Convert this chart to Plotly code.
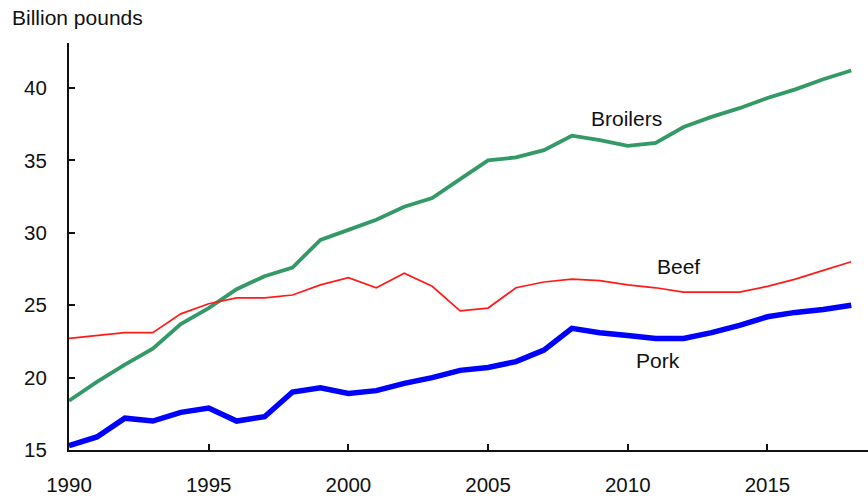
import plotly.graph_objects as go

years = list(range(1990, 2019))
broilers = [18.4, 19.7, 20.9, 22.0, 23.7, 24.8, 26.1, 27.0, 27.6, 29.5,
            30.2, 30.9, 31.8, 32.4, 33.7, 35.0, 35.2, 35.7, 36.7, 36.4,
            36.0, 36.2, 37.3, 38.0, 38.6, 39.3, 39.9, 40.6, 41.2]
beef = [22.7, 22.9, 23.1, 23.1, 24.4, 25.1, 25.5, 25.5, 25.7, 26.4,
        26.9, 26.2, 27.2, 26.3, 24.6, 24.8, 26.2, 26.6, 26.8, 26.7,
        26.4, 26.2, 25.9, 25.9, 25.9, 26.3, 26.8, 27.4, 28.0]
pork = [15.3, 15.9, 17.2, 17.0, 17.6, 17.9, 17.0, 17.3, 19.0, 19.3,
        18.9, 19.1, 19.6, 20.0, 20.5, 20.7, 21.1, 21.9, 23.4, 23.1,
        22.9, 22.7, 22.7, 23.1, 23.6, 24.2, 24.5, 24.7, 25.0]
x_ticks = [1990, 1995, 2000, 2005, 2010, 2015]
y_ticks = [15, 20, 25, 30, 35, 40]

FONT = "Liberation Sans, Arial, sans-serif"
TXT = "#111111"

fig = go.Figure()
fig.add_trace(go.Scatter(x=years, y=broilers, mode="lines", name="Broilers",
                         line=dict(color="#339966", width=3.8)))
fig.add_trace(go.Scatter(x=years, y=beef, mode="lines", name="Beef",
                         line=dict(color="#ff1a1a", width=1.7)))
fig.add_trace(go.Scatter(x=years, y=pork, mode="lines", name="Pork",
                         line=dict(color="#0000ff", width=5.5)))

fig.add_annotation(x=2009.94, y=37.86, xref="x", yref="y", text="Broilers",
                   showarrow=False, font=dict(size=21, color=TXT))
fig.add_annotation(x=2011.8, y=27.64, xref="x", yref="y", text="Beef",
                   showarrow=False, font=dict(size=21, color=TXT))
fig.add_annotation(x=2011.08, y=21.15, xref="x", yref="y", text="Pork",
                   showarrow=False, font=dict(size=21, color=TXT))
fig.add_annotation(x=0, y=1, xref="paper", yref="paper", text="Billion pounds",
                   showarrow=False, xanchor="left", yanchor="middle",
                   xshift=-59, yshift=26, font=dict(size=21, color=TXT))

fig.update_layout(
    width=868, height=496,
    margin=dict(l=69, r=0, t=43, b=46, autoexpand=False),
    paper_bgcolor="white", plot_bgcolor="white",
    showlegend=False,
    font=dict(family=FONT, size=20, color=TXT),
    xaxis=dict(range=[1990, 2018.6], tickvals=x_ticks, ticks="inside",
               ticklen=6, tickcolor=TXT, tickwidth=2, showline=True,
               linecolor=TXT, linewidth=2, showgrid=False, zeroline=False,
               tickfont=dict(size=20.5), automargin=False,
               ticklabelstandoff=15),
    yaxis=dict(range=[15, 43.1], tickvals=y_ticks, ticks="inside",
               ticklen=6, tickcolor=TXT, tickwidth=2, showline=True,
               linecolor=TXT, linewidth=2, showgrid=False, zeroline=False,
               tickfont=dict(size=20.5), automargin=False,
               ticklabelstandoff=16),
)

fig.write_html("out.html",
               config={"displayModeBar": False},
               post_script="document.body.style.margin='0';"
                           "document.body.style.overflow='hidden';")
